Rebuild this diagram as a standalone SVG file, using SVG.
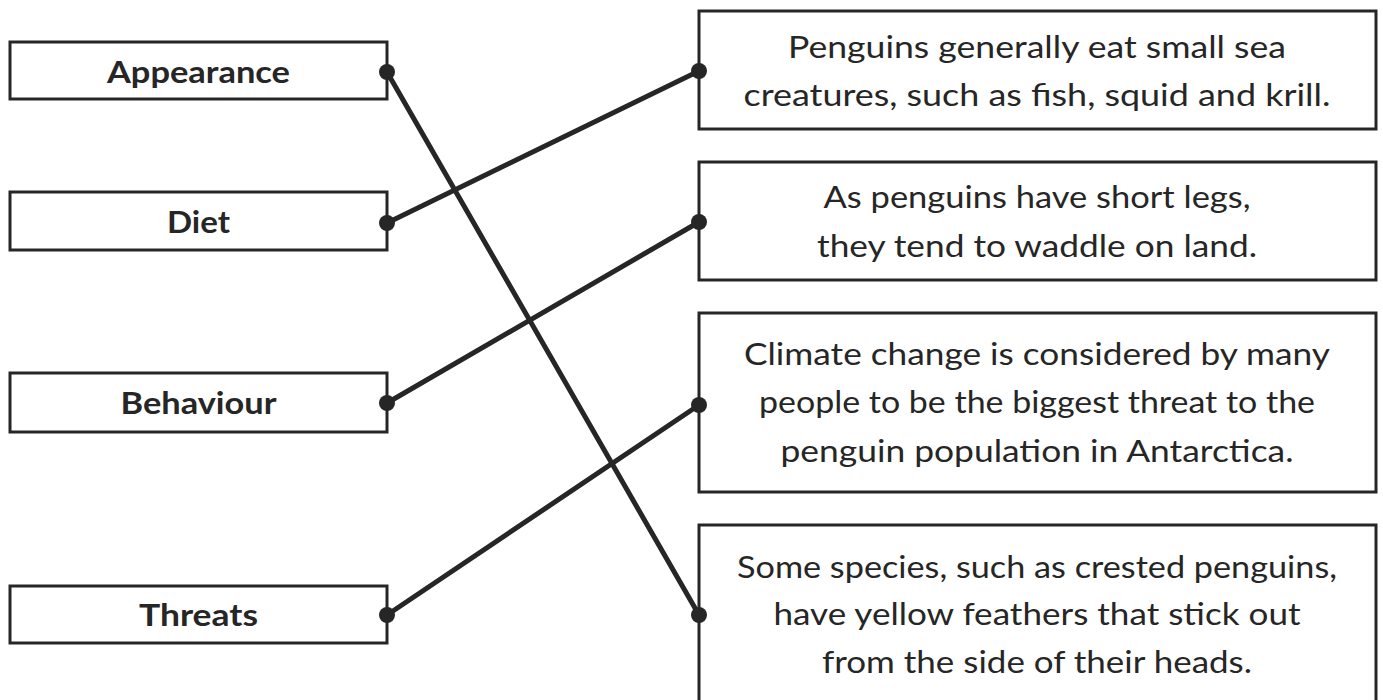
<svg xmlns="http://www.w3.org/2000/svg" width="1383" height="700" viewBox="0 0 1383 700">
<style>
.box{fill:#fff;stroke:#262626;stroke-width:3}
.lbl{font-family:"Lato","Open Sans",sans-serif;font-weight:bold;font-size:31px;fill:#262626;text-anchor:middle}
.txt{font-family:"Lato","Open Sans",sans-serif;font-size:31px;fill:#262626;text-anchor:middle}
.con{stroke:#262626;stroke-width:5;fill:none;stroke-linecap:round}
.dot{fill:#262626}
</style>
<rect width="1383" height="700" fill="#fff"/>
<g id="connectors">
<line class="con" x1="387" y1="72" x2="699" y2="615"/>
<line class="con" x1="387" y1="223" x2="699" y2="71"/>
<line class="con" x1="387" y1="403" x2="699" y2="222"/>
<line class="con" x1="387" y1="615" x2="699" y2="405"/>
</g>
<g id="appearance">
<rect class="box" x="10" y="42" width="377" height="57"/>
<text class="lbl" x="198.5" y="83" textLength="183" lengthAdjust="spacingAndGlyphs">Appearance</text>
<circle class="dot" cx="387" cy="72" r="8"/>
</g>
<g id="diet">
<rect class="box" x="10" y="192" width="377" height="58"/>
<text class="lbl" x="198.5" y="233" textLength="63" lengthAdjust="spacingAndGlyphs">Diet</text>
<circle class="dot" cx="387" cy="223" r="8"/>
</g>
<g id="behaviour">
<rect class="box" x="10" y="373" width="377" height="59"/>
<text class="lbl" x="198.5" y="414" textLength="156" lengthAdjust="spacingAndGlyphs">Behaviour</text>
<circle class="dot" cx="387" cy="403" r="8"/>
</g>
<g id="threats">
<rect class="box" x="10" y="586" width="377" height="57"/>
<text class="lbl" x="198.5" y="626" textLength="119" lengthAdjust="spacingAndGlyphs">Threats</text>
<circle class="dot" cx="387" cy="615" r="8"/>
</g>
<g id="diet-fact">
<rect class="box" x="699" y="11" width="677" height="118"/>
<text class="txt" x="1037" y="58" textLength="498" lengthAdjust="spacingAndGlyphs">Penguins generally eat small sea</text>
<text class="txt" x="1037" y="106" textLength="587" lengthAdjust="spacingAndGlyphs">creatures, such as fish, squid and krill.</text>
<circle class="dot" cx="699" cy="71" r="8"/>
</g>
<g id="behaviour-fact">
<rect class="box" x="699" y="162" width="677" height="118"/>
<text class="txt" x="1037" y="208" textLength="427" lengthAdjust="spacingAndGlyphs">As penguins have short legs,</text>
<text class="txt" x="1037" y="257" textLength="440" lengthAdjust="spacingAndGlyphs">they tend to waddle on land.</text>
<circle class="dot" cx="699" cy="222" r="8"/>
</g>
<g id="threats-fact">
<rect class="box" x="699" y="313" width="677" height="179"/>
<text class="txt" x="1037" y="365" textLength="586" lengthAdjust="spacingAndGlyphs">Climate change is considered by many</text>
<text class="txt" x="1037" y="413" textLength="556" lengthAdjust="spacingAndGlyphs">people to be the biggest threat to the</text>
<text class="txt" x="1037" y="462" textLength="513" lengthAdjust="spacingAndGlyphs">penguin population in Antarctica.</text>
<circle class="dot" cx="699" cy="405" r="8"/>
</g>
<g id="appearance-fact">
<rect class="box" x="699" y="525" width="677" height="190"/>
<text class="txt" x="1037" y="578" textLength="600" lengthAdjust="spacingAndGlyphs">Some species, such as crested penguins,</text>
<text class="txt" x="1037" y="625" textLength="527" lengthAdjust="spacingAndGlyphs">have yellow feathers that stick out</text>
<text class="txt" x="1037" y="673" textLength="430" lengthAdjust="spacingAndGlyphs">from the side of their heads.</text>
<circle class="dot" cx="699" cy="615" r="8"/>
</g>
</svg>
